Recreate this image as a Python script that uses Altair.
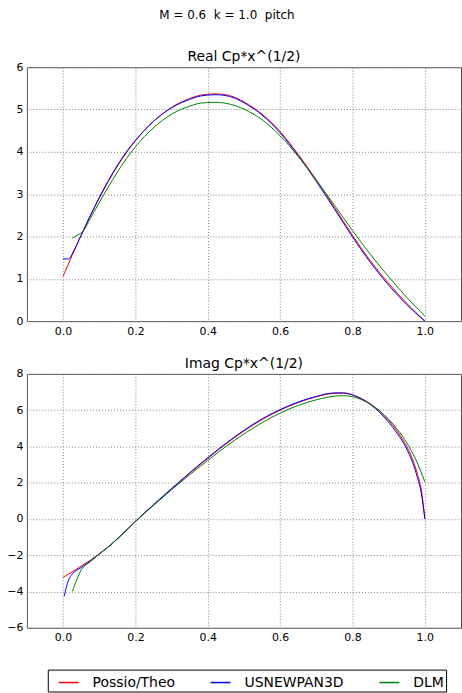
import altair as alt
import pandas as pd

series = ["Possio/Theo", "USNEWPAN3D", "DLM"]
colors = ["#ff0000", "#0000ff", "#008000"]

x_ticks = [0.0, 0.2, 0.4, 0.6, 0.8, 1.0]
real_y_ticks = [0, 1, 2, 3, 4, 5, 6]
imag_y_ticks = [-6, -4, -2, 0, 2, 4, 6, 8]

# Real Cp*x^(1/2)
real_possio_x = [0.0, 0.025, 0.05, 0.075, 0.1, 0.125, 0.15, 0.175, 0.2, 0.25, 0.3, 0.35, 0.38,
                 0.42, 0.46, 0.5, 0.55, 0.6, 0.65, 0.7, 0.75, 0.8, 0.85, 0.9, 0.95, 1.0]
real_possio_y = [1.06, 1.55, 2.03, 2.48, 2.90, 3.30, 3.66, 3.98, 4.26, 4.72, 5.05, 5.26, 5.34,
                 5.37, 5.33, 5.18, 4.89, 4.48, 3.94, 3.34, 2.69, 2.03, 1.42, 0.89, 0.42, 0.0]

real_usnp_x = [0.0, 0.015, 0.03, 0.05, 0.075, 0.1, 0.125, 0.15, 0.175, 0.2, 0.25, 0.3, 0.35, 0.38,
               0.42, 0.46, 0.5, 0.55, 0.6, 0.65, 0.7, 0.75, 0.8, 0.85, 0.9, 0.95, 1.0]
real_usnp_y = [1.47, 1.47, 1.67, 2.03, 2.49, 2.92, 3.32, 3.68, 4.00, 4.27, 4.72, 5.04, 5.24, 5.32,
               5.35, 5.31, 5.16, 4.87, 4.45, 3.91, 3.30, 2.65, 1.99, 1.38, 0.85, 0.39, 0.0]

real_dlm_x = [0.026, 0.04, 0.056, 0.075, 0.1, 0.125, 0.15, 0.175, 0.2, 0.25, 0.3, 0.35, 0.38,
              0.42, 0.46, 0.5, 0.55, 0.6, 0.65, 0.7, 0.75, 0.8, 0.85, 0.9, 0.95, 1.0]
real_dlm_y = [1.96, 2.03, 2.13, 2.42, 2.80, 3.17, 3.52, 3.84, 4.12, 4.57, 4.89, 5.08, 5.15,
              5.17, 5.13, 5.01, 4.76, 4.38, 3.89, 3.33, 2.74, 2.14, 1.57, 1.05, 0.56, 0.12]

# Imag Cp*x^(1/2)
imag_possio_x = [0.0, 0.025, 0.05, 0.075, 0.1, 0.125, 0.15, 0.175, 0.2, 0.25, 0.3, 0.35, 0.4,
                 0.45, 0.5, 0.55, 0.6, 0.65, 0.7, 0.75, 0.775, 0.8, 0.825, 0.85, 0.875, 0.9,
                 0.925, 0.95, 0.965, 0.98, 0.99, 1.0]
imag_possio_y = [-3.22, -2.92, -2.60, -2.28, -1.92, -1.53, -1.10, -0.62, -0.13, 0.78, 1.66, 2.52,
                 3.34, 4.13, 4.85, 5.48, 6.00, 6.42, 6.74, 6.93, 6.94, 6.84, 6.64, 6.34, 5.95,
                 5.43, 4.80, 4.00, 3.35, 2.45, 1.65, 0.05]

imag_usnp_x = [0.003, 0.015, 0.025, 0.05, 0.075, 0.1, 0.125, 0.15, 0.175, 0.2, 0.25, 0.3, 0.35,
               0.4, 0.45, 0.5, 0.55, 0.6, 0.65, 0.7, 0.75, 0.775, 0.8, 0.825, 0.85, 0.875, 0.9,
               0.925, 0.95, 0.965, 0.98, 0.99, 1.0]
imag_usnp_y = [-4.26, -3.38, -3.05, -2.68, -2.32, -1.94, -1.54, -1.10, -0.62, -0.13, 0.79, 1.68,
               2.55, 3.38, 4.17, 4.89, 5.52, 6.03, 6.45, 6.76, 6.95, 6.95, 6.84, 6.62, 6.30,
               5.88, 5.33, 4.68, 3.86, 3.18, 2.25, 1.45, 0.0]

imag_dlm_x = [0.026, 0.05, 0.075, 0.1, 0.125, 0.15, 0.175, 0.2, 0.25, 0.3, 0.35, 0.4, 0.45, 0.5,
              0.55, 0.6, 0.65, 0.7, 0.75, 0.775, 0.8, 0.825, 0.85, 0.875, 0.9, 0.925, 0.95,
              0.975, 1.0]
imag_dlm_y = [-3.99, -2.82, -2.36, -1.94, -1.54, -1.11, -0.63, -0.15, 0.75, 1.61, 2.44, 3.23,
              3.99, 4.69, 5.31, 5.84, 6.26, 6.57, 6.77, 6.80, 6.74, 6.58, 6.32, 5.97, 5.50,
              4.92, 4.20, 3.28, 2.05]


def build(pairs):
    rows = []
    for name, xs, ys in pairs:
        for xv, yv in zip(xs, ys):
            rows.append({"series": name, "x": xv, "y": yv})
    return pd.DataFrame(rows)


real_df = build([(series[0], real_possio_x, real_possio_y),
                 (series[1], real_usnp_x, real_usnp_y),
                 (series[2], real_dlm_x, real_dlm_y)])
imag_df = build([(series[0], imag_possio_x, imag_possio_y),
                 (series[1], imag_usnp_x, imag_usnp_y),
                 (series[2], imag_dlm_x, imag_dlm_y)])

FONT = "DejaVu Sans"
minus_expr = "replace(datum.label, '-', '\u2212')"


def panel(df, title, ydomain, yvalues, legend):
    return alt.Chart(df).mark_line(strokeWidth=1, interpolate="monotone").encode(
        x=alt.X("x:Q",
                scale=alt.Scale(domain=[-0.1, 1.1], nice=False, zero=False),
                axis=alt.Axis(values=x_ticks, format=".1f", title=None)),
        y=alt.Y("y:Q",
                scale=alt.Scale(domain=ydomain, nice=False, zero=False),
                axis=alt.Axis(values=yvalues, format="d", title=None, labelExpr=minus_expr)),
        color=alt.Color("series:N", scale=alt.Scale(domain=series, range=colors), legend=legend),
    ).properties(
        width=436, height=255,
        title=alt.TitleParams(title, fontSize=14, font=FONT, fontWeight="normal",
                              color="black", offset=-3, anchor="middle"),
    )


legend = alt.Legend(
    orient="none", legendX=21, legendY=297, direction="horizontal", title=None,
    symbolType="stroke", symbolSize=400, symbolStrokeWidth=1.5,
    labelFontSize=14, labelFont=FONT, labelColor="black",
    strokeColor="black", fillColor="white", padding=2,
    columnPadding=26.5, labelOffset=13, symbolOffset=8,
)

top = panel(real_df, "Real Cp*x^(1/2)", [0, 6], real_y_ticks, None)
bottom = panel(imag_df, "Imag Cp*x^(1/2)", [-6, 8], imag_y_ticks, legend)

chart = alt.vconcat(top, bottom, spacing=53, bounds="flush").resolve_scale(
    color="independent"
).properties(
    title=alt.TitleParams("M\u00a0=\u00a00.6\u00a0\u00a0k\u00a0=\u00a01.0\u00a0\u00a0pitch",
                          fontSize=12, font=FONT,
                          fontWeight="normal", color="black", anchor="middle",
                          offset=28, dx=-7),
    padding={"left": 6, "top": 7, "right": 0, "bottom": 0},
).configure_view(
    stroke="#555555", strokeWidth=1
).configure_axis(
    domain=False, ticks=False, labelPadding=4,
    labelFont=FONT, labelFontSize=11, labelColor="black",
    grid=True, gridColor="#808080", gridDash=[1, 2], gridWidth=1, gridOpacity=1,
)

chart.save("out.html", embed_options={"renderer": "svg", "actions": False})
